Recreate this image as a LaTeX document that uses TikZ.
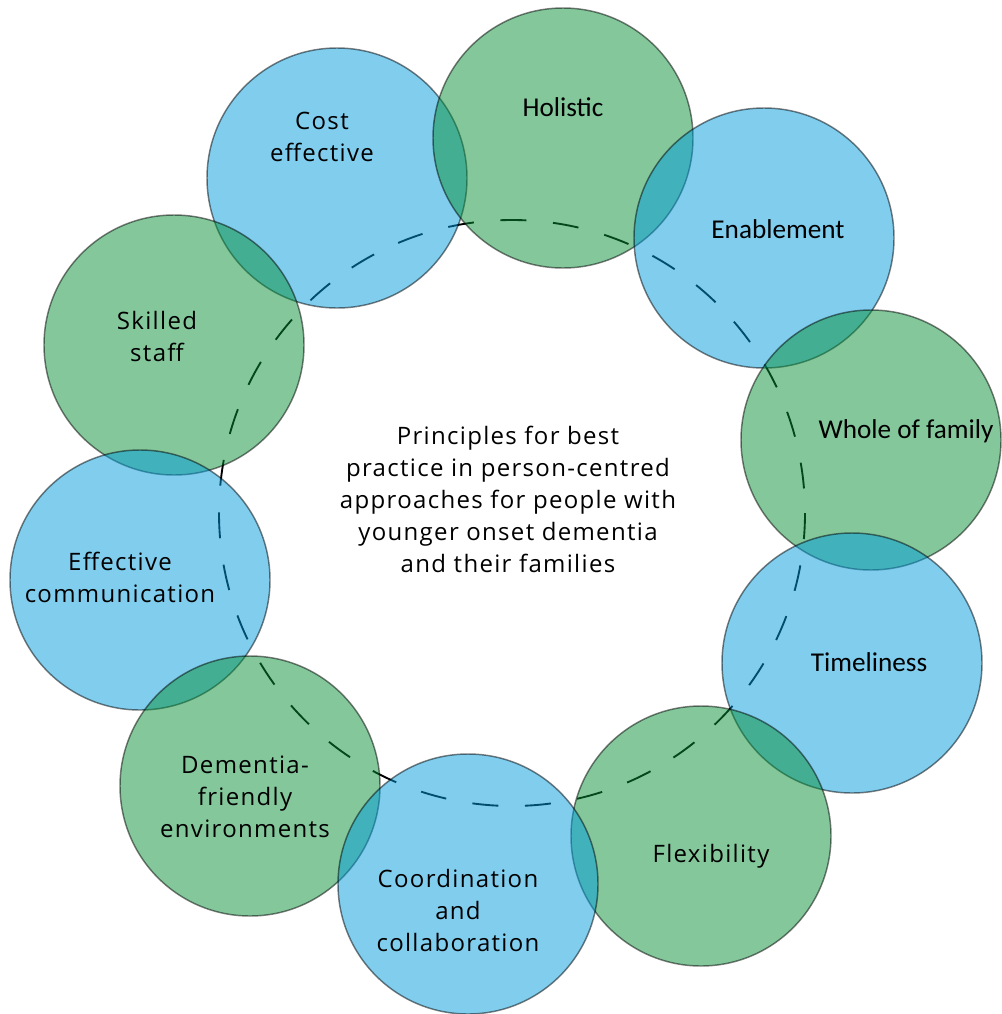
\documentclass[tikz,border=0pt]{standalone}
\usepackage{fontspec}
\setmainfont{Open Sans}[LetterSpace=5.5]
\newfontfamily\calfont{Carlito}
\definecolor{pgreen}{RGB}{7,143,55}
\definecolor{pblue}{RGB}{1,155,221}
\tikzset{
  x=0.75pt, y=-0.75pt,
  bubble/.style={circle, minimum size=195pt, inner sep=0pt, draw=black, draw opacity=0.5, fill opacity=0.5, line width=1.1pt},
  gbub/.style={bubble, fill=pgreen},
  bbub/.style={bubble, fill=pblue},
  lab/.style={align=center, font=\fontsize{18}{24}\selectfont, text=black},
  clab/.style={align=center, font=\calfont\fontsize{20.4}{24}\selectfont, text=black},
  ring/.style={draw=black, line width=1.4pt, dash pattern=on 19.5pt off 20pt}
}
\begin{document}
\begin{tikzpicture}
\useasboundingbox (0,0) rectangle (1001,1014);
\node[circle, minimum size=439.5pt, inner sep=0pt] (ringc) at (512,513) {};
\draw[ring] (512,513) circle[radius=293];
\node[bbub] (c1) at (337,178) {};
\node[gbub] (c2) at (563,138) {};
\node[bbub] (c3) at (764,238) {};
\node[gbub] (c4) at (174,345) {};
\node[gbub] (c5) at (871,440) {};
\node[bbub] (c6) at (140,580) {};
\node[bbub] (c7) at (852,663) {};
\node[gbub] (c8) at (250,786) {};
\node[gbub] (c9) at (701,836) {};
\node[bbub] (c10) at (468,884) {};
\node[lab] (t1) at (322,137) {Cost\\effective};
\node[clab] (t2) at (563,107) {Holistic};
\node[clab] (t3) at (778,229) {Enablement};
\node[lab] (t4) at (157,336) {Skilled\\staff};
\node[clab] (t5) at (906,431) {Whole of family};
\node[lab] (t6) at (120,577) {Effective\\communication};
\node[clab] (t7) at (869,662) {Timeliness};
\node[lab] (t8) at (245,797) {Dementia-\\friendly\\environments};
\node[lab] (t9) at (711,856) {Flexibility};
\node[lab] (t10) at (458,910) {Coordination\\and\\collaboration};
\node[lab] (tc) at (508,499) {Principles for best\\practice in person-centred\\approaches for people with\\younger onset dementia\\and their families};
\end{tikzpicture}
\end{document}
